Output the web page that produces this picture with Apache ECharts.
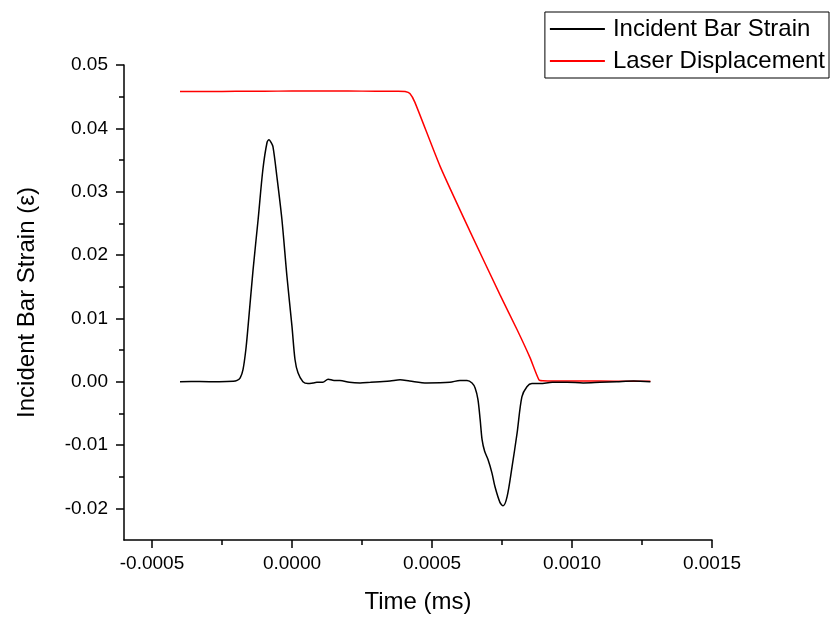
<!DOCTYPE html>
<html>
<head>
<meta charset="utf-8">
<script src="https://cdn.jsdelivr.net/npm/echarts@6/dist/echarts.min.js"></script>
<style>
  html, body { margin: 0; padding: 0; background: #fff; }
  #chart { width: 834px; height: 621px; }
</style>
</head>
<body>
<div id="chart"></div>
<script>
// Incident bar strain vs. time, with the laser displacement trace on the same axes.
// Values.

const strainTime = [
  -0.0004, -0.00033, -0.00026, -0.00021, -0.000196, -0.000185, -0.000175, -0.000165,
  -0.000157, -0.000139, -0.000121, -0.000104, -0.000089, -0.000082, -0.000075, -0.000068,
  -0.000054, -0.000036, -0.000018, 0.0, 0.0000107, 0.0000214, 0.000039, 0.000057,
  0.000075, 0.000089, 0.00011, 0.000129, 0.00015, 0.000171, 0.000205, 0.000243,
  0.00028, 0.000314, 0.00035, 0.000386, 0.00042, 0.000482, 0.000564, 0.0006,
  0.000625, 0.000643, 0.000654, 0.000664, 0.000672, 0.000679, 0.000688, 0.0007,
  0.000714, 0.000725, 0.000743, 0.000754, 0.000768, 0.000786, 0.000804, 0.000821,
  0.000839, 0.000857, 0.000886, 0.00093, 0.000982, 0.00104, 0.0011, 0.00116,
  0.00122, 0.00128
]
const strainValues = [
  0, 0.00002, -0.00002, 0.00005, 0.0002, 0.0006, 0.0019, 0.005,
  0.0087, 0.0177, 0.0256, 0.0335, 0.0378, 0.0382, 0.0378, 0.0371,
  0.0324, 0.0256, 0.0166, 0.0087, 0.0035, 0.0014, 0.0, -0.0003,
  -0.0002, -0.0001, -0.0001, 0.0004, 0.0002, 0.0002, -0.0001, -0.0002,
  -0.0001, 0.0, 0.0001, 0.0003, 0.0001, -0.0002, -0.0001, 0.0002,
  0.0002, -0.0002, -0.001, -0.0028, -0.006, -0.0092, -0.011, -0.0123,
  -0.0144, -0.0166, -0.0191, -0.0196, -0.0182, -0.0134, -0.0081, -0.0024,
  -0.0008, -0.0003, -0.0003, -0.0001, -0.0001, -0.0002, -0.0001, 0.0,
  0.0001, 0.0
]

const laserTime = [
  -0.0004, -0.0003, -0.0002, -0.0001, 0.0, 0.0001, 0.0002, 0.0003,
  0.00038, 0.000404, 0.000421, 0.000439, 0.000529, 0.000636, 0.000743, 0.000804,
  0.00085, 0.000882, 0.000896, 0.001, 0.0011, 0.0012, 0.00128
]
const laserValues = [
  0.0458, 0.0458, 0.04585, 0.04585, 0.0459, 0.0459, 0.0459, 0.04585,
  0.04585, 0.0458, 0.0455, 0.0441, 0.034, 0.0237, 0.0137, 0.0082,
  0.0038, 0.0003, 0.00015, 0.0001, 0.0001, 0.00005, 0.00005
]

const xMajorTicks = [-0.0005, 0.0, 0.0005, 0.001, 0.0015]
const xMinorTicks = [-0.00025, 0.00025, 0.00075, 0.00125]
const yMajorTicks = [-0.02, -0.01, 0.0, 0.01, 0.02, 0.03, 0.04, 0.05]
const yMinorTicks = [-0.015, -0.005, 0.005, 0.015, 0.025, 0.035, 0.045]

const FONT = '"Liberation Sans", Arial, sans-serif'
const X_MIN = -0.0006, X_MAX = 0.0015
const Y_MIN = -0.025, Y_MAX = 0.05

function zip(xs, ys) {
  return xs.map(function (x, i) { return [x, ys[i]] })
}

const axisLine = { show: true, onZero: false, lineStyle: { color: '#000', width: 1.5 } }
const tickStyle = { color: '#000', width: 1.5 }

const chart = echarts.init(document.getElementById('chart'))
chart.setOption({
  backgroundColor: '#fff',
  animation: false,
  textStyle: { fontFamily: FONT },
  grid: { left: 124, right: 122, top: 65, bottom: 81 },
  legend: {
    orient: 'vertical',
    right: 5, top: 12,
    padding: [2, 4, 2, 4],
    itemGap: 2,
    itemWidth: 55,
    itemHeight: 14,
    borderColor: '#000',
    borderWidth: 1,
    borderRadius: 0,
    // line only in the legend swatch, no marker dot
    itemStyle: { opacity: 0 },
    textStyle: { fontFamily: FONT, fontSize: 24, color: '#000', lineHeight: 30, padding: [0, 0, 0, 3] },
    data: ['Incident Bar Strain', 'Laser Displacement'],
  },
  xAxis: [{
    type: 'value', min: X_MIN, max: X_MAX,
    name: 'Time (ms)', nameLocation: 'middle', nameGap: 50,
    nameTextStyle: { fontFamily: FONT, fontSize: 24, color: '#000' },
    axisLine: axisLine,
    axisTick: { show: true, inside: false, length: 8, customValues: xMajorTicks, lineStyle: tickStyle },
    axisLabel: {
      customValues: xMajorTicks, margin: 14, fontFamily: FONT, fontSize: 19, color: '#000',
      formatter: function (v) { return v.toFixed(4) }
    },
    splitLine: { show: false },
  }, {
    // minor ticks only
    type: 'value', min: X_MIN, max: X_MAX, position: 'bottom',
    axisLine: { show: false, onZero: false },
    axisTick: { show: true, length: 5, customValues: xMinorTicks, lineStyle: tickStyle },
    axisLabel: { show: false },
    splitLine: { show: false },
  }],
  yAxis: [{
    type: 'value', min: Y_MIN, max: Y_MAX,
    name: 'Incident Bar Strain (ε)', nameLocation: 'middle', nameGap: 85, nameRotate: 90,
    nameTextStyle: { fontFamily: FONT, fontSize: 24, color: '#000' },
    axisLine: axisLine,
    axisTick: { show: true, inside: false, length: 8, customValues: yMajorTicks, lineStyle: tickStyle },
    axisLabel: {
      customValues: yMajorTicks, margin: 16, fontFamily: FONT, fontSize: 19, color: '#000',
      formatter: function (v) { return v.toFixed(2) }
    },
    splitLine: { show: false },
  }, {
    type: 'value', min: Y_MIN, max: Y_MAX, position: 'left',
    axisLine: { show: false, onZero: false },
    axisTick: { show: true, length: 5, customValues: yMinorTicks, lineStyle: tickStyle },
    axisLabel: { show: false },
    splitLine: { show: false },
  }],
  series: [{
    name: 'Incident Bar Strain',
    type: 'line',
    xAxisIndex: 0, yAxisIndex: 0,
    data: zip(strainTime, strainValues),
    symbol: 'none',
    smooth: 0.3,
    lineStyle: { color: '#000', width: 1.5 },
    itemStyle: { color: '#000' },
    z: 3,
  }, {
    name: 'Laser Displacement',
    type: 'line',
    xAxisIndex: 0, yAxisIndex: 0,
    data: zip(laserTime, laserValues),
    symbol: 'none',
    smooth: 0.2,
    lineStyle: { color: '#ff0000', width: 1.5 },
    itemStyle: { color: '#ff0000' },
    z: 2,
  }],
})
</script>
</body>
</html>
